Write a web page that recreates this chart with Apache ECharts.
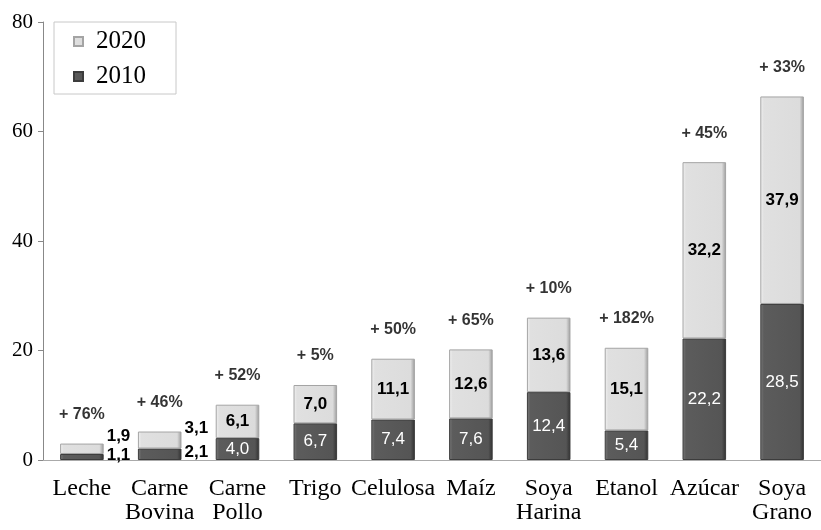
<!DOCTYPE html>
<html>
<head>
<meta charset="utf-8">
<script src="https://cdn.jsdelivr.net/npm/echarts@6/dist/echarts.min.js"></script>
<style>
  html, body { margin: 0; padding: 0; background: #fff; }
  #chart { width: 821px; height: 530px; }
</style>
</head>
<body>
<div id="chart"></div>
<script>
// datos
const categorias = ['Leche', 'Carne\nBovina', 'Carne\nPollo', 'Trigo', 'Celulosa', 'Maíz', 'Soya\nHarina', 'Etanol', 'Azúcar', 'Soya\nGrano'];
const valores2010 = [1.1, 2.1, 4.0, 6.7, 7.4, 7.6, 12.4, 5.4, 22.2, 28.5];
const valores2020 = [1.9, 3.1, 6.1, 7.0, 11.1, 12.6, 13.6, 15.1, 32.2, 37.9];
const crecimiento = ['+ 76%', '+ 46%', '+ 52%', '+ 5%', '+ 50%', '+ 65%', '+ 10%', '+ 182%', '+ 45%', '+ 33%'];
const ticksY = [0, 20, 40, 60, 80];

const serif = 'Liberation Serif';
const sans = 'Liberation Sans';
const fmt = v => v.toFixed(1).replace('.', ',');

// barras muy bajas: etiqueta fuera, a la derecha
const pequena = i => valores2010[i] + valores2020[i] < 8;

const chart = echarts.init(document.getElementById('chart'));

const grad = (a, b, c, d) => new echarts.graphic.LinearGradient(0, 0, 1, 0, [
  { offset: 0, color: a },
  { offset: 0.08, color: b },
  { offset: 0.9, color: c },
  { offset: 1, color: d }
]);

const option = {
  animation: false,
  grid: { left: 43, right: -9, top: 22, bottom: 70 },
  legend: {
    data: ['2020', '2010'],
    orient: 'vertical',
    left: 54,
    top: 22,
    padding: [7, 30, 5, 19],
    itemGap: 10,
    itemWidth: 9,
    itemHeight: 9,
    icon: 'rect',
    backgroundColor: '#fff',
    borderColor: '#c8c8c8',
    borderWidth: 1,
    textStyle: { fontFamily: serif, fontSize: 25, color: '#000', padding: [0, 0, 0, 8] }
  },
  xAxis: {
    type: 'category',
    data: categorias,
    axisLine: { show: true, lineStyle: { color: '#aaa', width: 1 } },
    axisTick: { show: false },
    axisLabel: {
      interval: 0,
      margin: 17,
      fontFamily: serif,
      fontSize: 24,
      lineHeight: 24,
      color: '#000'
    }
  },
  yAxis: {
    type: 'value',
    min: ticksY[0],
    max: ticksY[ticksY.length - 1],
    interval: 20,
    splitLine: { show: false },
    axisLine: { show: true, lineStyle: { color: '#888', width: 1 } },
    axisTick: { show: true, length: 5, lineStyle: { color: '#888' } },
    axisLabel: { margin: 10, fontFamily: serif, fontSize: 21, color: '#000' }
  },
  series: [
    {
      name: '2010',
      type: 'bar',
      stack: 'total',
      barWidth: '56%',
      data: valores2010.map((v, i) => pequena(i) ? {
        value: v,
        label: { position: 'right', distance: 3, color: '#000', fontWeight: 'bold', offset: [0, -2] }
      } : v),
      itemStyle: {
        color: grad('#7a7a7a', '#5c5c5c', '#555', '#303030'),
        borderColor: '#3c3c3c',
        borderWidth: 1
      },
      label: {
        show: true,
        position: 'inside',
        fontFamily: sans,
        fontSize: 17,
        color: '#fff',
        formatter: p => fmt(p.value)
      }
    },
    {
      name: '2020',
      type: 'bar',
      stack: 'total',
      data: valores2020.map((v, i) => pequena(i) ? {
        value: v,
        label: { position: 'right', distance: 3, offset: [0, -12] }
      } : v),
      itemStyle: {
        color: grad('#f2f2f2', '#e0e0e0', '#dcdcdc', '#9a9a9a'),
        borderColor: '#a4a4a4',
        borderWidth: 1
      },
      label: {
        show: true,
        position: 'inside',
        fontFamily: sans,
        fontWeight: 'bold',
        fontSize: 17,
        color: '#000',
        formatter: p => fmt(p.value)
      }
    },
    {
      // porcentaje de crecimiento sobre cada barra
      name: 'crecimiento',
      type: 'scatter',
      symbolSize: 0,
      data: valores2010.map((v, i) => v + valores2020[i]),
      label: {
        show: true,
        position: 'top',
        distance: 21,
        fontFamily: sans,
        fontWeight: 'bold',
        fontSize: 16,
        color: '#000',
        formatter: p => crecimiento[p.dataIndex]
      },
      tooltip: { show: false }
    }
  ]
};

chart.setOption(option);
</script>
</body>
</html>
